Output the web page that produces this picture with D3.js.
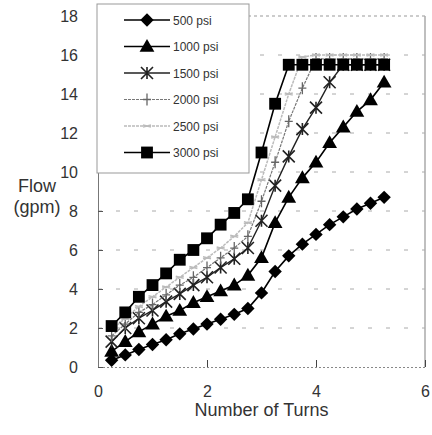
<!DOCTYPE html>
<html lang="en">
<head>
<meta charset="UTF-8">
<title>Flow vs turns</title>
<script src="https://cdn.jsdelivr.net/npm/d3@7"></script>
<style>
  body { margin: 0; background: #fff; }
  text { font-family: "Liberation Sans", Arial, sans-serif; }
</style>
</head>
<body>
<script>
// turns (x) shared by every series
const turns = [0.25, 0.5, 0.75, 1, 1.25, 1.5, 1.75, 2, 2.25, 2.5, 2.75, 3, 3.25, 3.5, 3.75, 4, 4.25, 4.5, 4.75, 5, 5.25]

const psi500  = [0.35, 0.62, 0.9, 1.15, 1.4, 1.7, 1.95, 2.2, 2.45, 2.7, 3.0, 3.8, 4.9, 5.7, 6.3, 6.8, 7.3, 7.7, 8.1, 8.4, 8.7]
const psi1000 = [0.8, 1.3, 1.8, 2.2, 2.6, 2.9, 3.3, 3.6, 3.9, 4.2, 4.7, 5.6, 7.4, 8.7, 9.7, 10.5, 11.5, 12.3, 13.1, 13.7, 14.6]
const psi1500 = [1.3, 2.0, 2.5, 2.9, 3.35, 3.75, 4.2, 4.6, 5.1, 5.55, 6.1, 7.5, 9.3, 10.8, 12.2, 13.3, 14.6, 15.5, 15.5, 15.5, 15.5]
const psi2000 = [1.6, 2.2, 2.8, 3.2, 3.7, 4.2, 4.6, 5.1, 5.6, 6.1, 6.7, 8.5, 10.5, 12.6, 14.3, 15.8, 15.8, 15.8, 15.8, 15.8, 15.8]
const psi2500 = [1.9, 2.5, 3.1, 3.6, 4.1, 4.6, 5.1, 5.6, 6.1, 6.7, 7.4, 9.6, 11.8, 14.0, 15.9, 16.0, 16.0, 16.0, 16.0, 16.0, 16.0]
const psi3000 = [2.1, 2.8, 3.6, 4.2, 4.8, 5.5, 6.0, 6.6, 7.3, 7.9, 8.6, 11.0, 13.5, 15.5, 15.5, 15.5, 15.5, 15.5, 15.5, 15.5, 15.5]

const seriesNames = ["500  psi", "1000 psi", "1500 psi", "2000 psi", "2500 psi", "3000 psi"]
const xTicks = [0, 2, 4, 6]
const yTicks = [0, 2, 4, 6, 8, 10, 12, 14, 16, 18]

const w = 432
const h = 435
const m = {left: 98, right: 7, top: 16, bottom: 68}

const svg = d3.select("body").append("svg").attr("width", w).attr("height", h)

const x = d3.scaleLinear().domain([0, 6]).range([m.left, w - m.right])
const y = d3.scaleLinear().domain([0, 18]).range([h - m.bottom, m.top])

//gridlines
svg.append("g")
  .selectAll("line")
  .data(yTicks.filter(d => d > 0 && d < 18))
  .enter().append("line")
  .attr("x1", x(0)).attr("x2", x(6))
  .attr("y1", d => y(d)).attr("y2", d => y(d))
  .attr("stroke", "#aaa").attr("stroke-width", 1)
  .attr("stroke-dasharray", "4,14")

//plot frame
svg.append("line").attr("x1", x(0)).attr("x2", x(6)).attr("y1", y(18)).attr("y2", y(18))
  .attr("stroke", "#999").attr("stroke-dasharray", "3,3")
svg.append("line").attr("x1", x(6)).attr("x2", x(6)).attr("y1", y(18)).attr("y2", y(0))
  .attr("stroke", "#aaa").attr("stroke-width", 1.5)

//axes
const xAxis = d3.axisBottom(x).tickValues(xTicks).tickFormat(d3.format("d")).tickSize(-7).tickPadding(19)
const gx = svg.append("g").attr("transform", `translate(0,${y(0)})`).call(xAxis)
gx.select(".domain").attr("stroke", "#888").attr("stroke-dasharray", "2,2")
gx.selectAll(".tick line").attr("stroke", "#444")
gx.selectAll("text").attr("font-size", 16).attr("fill", "#333")

const yAxis = d3.axisLeft(y).tickValues(yTicks).tickFormat(d3.format("d")).tickSize(-5).tickPadding(20)
const gy = svg.append("g").attr("transform", `translate(${x(0)},0)`).call(yAxis)
gy.select(".domain").attr("stroke", "#777")
gy.selectAll(".tick line").attr("stroke", "#555")
gy.selectAll("text").attr("font-size", 16).attr("fill", "#333")

//axis titles
svg.append("text").attr("x", (x(0) + x(6)) / 2).attr("y", 416)
  .attr("text-anchor", "middle").attr("font-size", 18).attr("fill", "#333")
  .text("Number of Turns")
svg.append("text").attr("x", 37).attr("y", 192)
  .attr("text-anchor", "middle").attr("font-size", 18).attr("fill", "#333").text("Flow")
svg.append("text").attr("x", 37).attr("y", 213)
  .attr("text-anchor", "middle").attr("font-size", 18).attr("fill", "#333").text("(gpm)")

//marker helpers
const diamond = d3.symbol().type(d3.symbolSquare).size(90)
const triangle = d3.symbol().type(d3.symbolTriangle).size(95)
const square = d3.symbol().type(d3.symbolSquare).size(140)

function drawMarker(g, kind, cx, cy) {
  if (kind === "diamond") {
    g.append("path").attr("d", diamond()).attr("fill", "#000")
      .attr("transform", `translate(${cx},${cy}) rotate(45)`)
  } else if (kind === "triangle") {
    g.append("path").attr("d", triangle()).attr("fill", "#000")
      .attr("transform", `translate(${cx},${cy + 1})`)
  } else if (kind === "square") {
    g.append("path").attr("d", square()).attr("fill", "#000")
      .attr("transform", `translate(${cx},${cy})`)
  } else if (kind === "star") {
    const r = 6
    g.append("path")
      .attr("d", `M${cx - r},${cy - r}L${cx + r},${cy + r}M${cx - r},${cy + r}L${cx + r},${cy - r}M${cx},${cy - r}L${cx},${cy + r}`)
      .attr("stroke", "#222").attr("stroke-width", 1.6).attr("fill", "none")
  } else if (kind === "plus") {
    g.append("path")
      .attr("d", `M${cx - 4},${cy}L${cx + 4},${cy}M${cx},${cy - 6}L${cx},${cy + 6}`)
      .attr("stroke", "#666").attr("stroke-width", 1.3).attr("fill", "none")
  } else if (kind === "dot") {
    g.append("path")
      .attr("d", `M${cx - 4},${cy - 1}L${cx + 4},${cy + 1}M${cx - 4},${cy + 1}L${cx + 4},${cy - 1}`)
      .attr("stroke", "#bbb").attr("stroke-width", 1.5).attr("fill", "none")
  }
}

const series = [
  {name: seriesNames[0], values: psi500, marker: "diamond", color: "#000", width: 1.6, dash: null},
  {name: seriesNames[1], values: psi1000, marker: "triangle", color: "#000", width: 1.6, dash: null},
  {name: seriesNames[2], values: psi1500, marker: "star", color: "#222", width: 1.4, dash: null},
  {name: seriesNames[3], values: psi2000, marker: "plus", color: "#777", width: 1.2, dash: "3,1"},
  {name: seriesNames[4], values: psi2500, marker: "dot", color: "#bbb", width: 1.5, dash: "3,1"},
  {name: seriesNames[5], values: psi3000, marker: "square", color: "#000", width: 1.6, dash: null}
]

const line = d3.line().x(d => x(d[0])).y(d => y(d[1]))

const plot = svg.append("g")
series.forEach(s => {
  const pts = turns.map((t, i) => [t, s.values[i]])
  const g = plot.append("g")
  g.append("path").attr("d", line(pts)).attr("fill", "none")
    .attr("stroke", s.color).attr("stroke-width", s.width)
    .attr("stroke-dasharray", s.dash)
  pts.forEach(p => drawMarker(g, s.marker, x(p[0]), y(p[1])))
})

//legend
const legend = svg.append("g").attr("id", "legend")
legend.append("rect").attr("x", 97).attr("y", 4).attr("width", 152).attr("height", 169)
  .attr("fill", "#fff").attr("stroke", "#999").attr("stroke-width", 1)
series.forEach((s, i) => {
  const ly = 20 + i * 26.5
  legend.append("line").attr("x1", 124).attr("x2", 170).attr("y1", ly).attr("y2", ly)
    .attr("stroke", s.color).attr("stroke-width", s.width).attr("stroke-dasharray", s.dash)
  drawMarker(legend, s.marker, 147, ly)
  legend.append("text").attr("x", 173).attr("y", ly + 4.5)
    .attr("font-size", 12).attr("fill", "#333").text(s.name)
})
</script>
</body>
</html>
